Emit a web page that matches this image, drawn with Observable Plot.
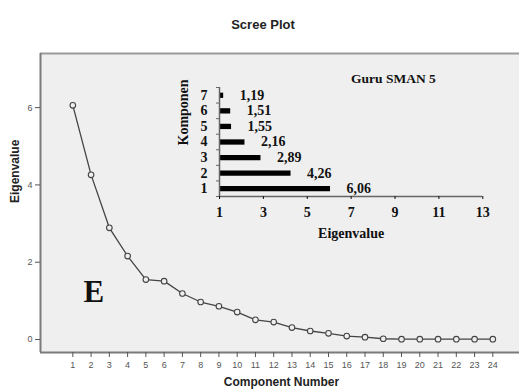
<!DOCTYPE html>
<html><head><meta charset="utf-8">
<script src="https://cdn.jsdelivr.net/npm/d3@7"></script>
<script src="https://cdn.jsdelivr.net/npm/@observablehq/plot@0.6"></script>
<style>
body{margin:0;background:#fff}
#wrap{position:relative;width:519px;height:392px;overflow:hidden}
#wrap svg{position:absolute;left:0;top:0}
</style></head><body><div id="wrap"></div>
<script>
// Main scree plot data
const components = [1,2,3,4,5,6,7,8,9,10,11,12,13,14,15,16,17,18,19,20,21,22,23,24];
const eigenvalues = [6.06,4.26,2.89,2.16,1.55,1.51,1.19,0.97,0.86,0.71,0.51,0.45,0.31,0.22,0.16,0.09,0.06,0.02,0.01,0.01,0.01,0.01,0.01,0.01];
const yTicks = [0,2,4,6];

// Inset bar chart data
const insetComponents = [1,2,3,4,5,6,7];
const insetValues = [6.06,4.26,2.89,2.16,1.55,1.51,1.19];
const insetLabels = ["6,06","4,26","2,89","2,16","1,55","1,51","1,19"];
const insetXTicks = [1,3,5,7,9,11,13];
const insetBoundaryTicks = [0.5,1.5,2.5,3.5,4.5,5.5,6.5,7.5];

const sans = "'Liberation Sans', Arial, sans-serif";
const serif = "'Liberation Serif', 'Times New Roman', serif";

const scree = components.map((c, i) => ({c, v: eigenvalues[i]}));
const insetData = insetComponents.map((k, i) => ({k, v: insetValues[i], label: insetLabels[i]}));

const main = Plot.plot({
  width: 519, height: 392,
  marginLeft: 40, marginRight: 0, marginTop: 53, marginBottom: 40,
  style: {background: "transparent", fontFamily: sans, overflow: "visible"},
  x: {domain: [-0.77, 25.46]},
  y: {domain: [-0.336, 7.40]},
  marks: [
    Plot.frame({fill: "#efefef", stroke: "none"}),
    Plot.ruleY([7.40], {stroke: "#9a9a9a", strokeWidth: 2}),
    Plot.ruleX([-0.77], {stroke: "#7a7a7a", strokeWidth: 2}),
    Plot.ruleY([-0.336], {stroke: "#7a7a7a", strokeWidth: 2}),
    Plot.axisX({ticks: components, tickSize: 5, tickPadding: 4, fontSize: 9, color: "#555", label: null}),
    Plot.axisY({ticks: yTicks, tickSize: 5, tickPadding: 3, fontSize: 9, color: "#555", label: null}),
    Plot.line(scree, {x: "c", y: "v", stroke: "#444", strokeWidth: 1.3}),
    Plot.dot(scree, {x: "c", y: "v", r: 2.8, stroke: "#444", fill: "#efefef", strokeWidth: 1.1}),
    Plot.text(["E"], {frameAnchor: "bottom-left", dx: 43, dy: -51, fontSize: 31, fontWeight: "bold", fontFamily: serif, fill: "#111"}),
    Plot.text(["Scree Plot"], {frameAnchor: "top", dx: -17, dy: -34, fontSize: 13, fontWeight: "bold", fill: "#222"}),
    Plot.text(["Eigenvalue"], {frameAnchor: "left", dx: -25, rotate: -90, fontSize: 12, fontWeight: "bold", fill: "#222"}),
    Plot.text(["Component Number"], {frameAnchor: "bottom", dx: 1.5, dy: 33, fontSize: 12, fontWeight: "bold", fill: "#222"})
  ]
});

const inset = Plot.plot({
  width: 519, height: 392,
  marginLeft: 219, marginRight: 36.7, marginTop: 87, marginBottom: 196,
  style: {background: "transparent", fontFamily: serif, overflow: "visible"},
  x: {domain: [1, 13]},
  y: {domain: [0.5, 7.5]},
  marks: [
    Plot.ruleY(insetData, {y: "k", x1: 1, x2: "v", stroke: "#000", strokeWidth: 5.3}),
    Plot.text(insetData, {x: "v", y: "k", text: "label", dx: 16, textAnchor: "start", fontSize: 14, fontWeight: "bold", fill: "#111"}),
    Plot.ruleX([1], {stroke: "#666", strokeWidth: 1.5}),
    Plot.ruleY([0.5], {stroke: "#666", strokeWidth: 1.5}),
    Plot.axisX({ticks: insetXTicks, tickSize: 3, tickPadding: 8, tickFormat: d => String(d), fontSize: 14, fontWeight: "bold", color: "#111", label: null}),
    Plot.axisY({ticks: insetComponents, tickSize: 0, tickPadding: 12, tickFormat: d => String(d), fontSize: 14, fontWeight: "bold", color: "#111", label: null}),
    Plot.axisY({ticks: insetBoundaryTicks, tickSize: 3, tickFormat: () => "", color: "#666", label: null}),
    Plot.text(["Komponen"], {frameAnchor: "left", dx: -36, dy: 3.5, rotate: -90, fontSize: 14, fontWeight: "bold", fill: "#111"}),
    Plot.text(["Eigenvalue"], {frameAnchor: "bottom", dy: 41, fontSize: 14, fontWeight: "bold", fill: "#111"}),
    Plot.text(["Guru SMAN 5"], {frameAnchor: "top-right", dx: -47, dy: -14, fontSize: 13.5, fontWeight: "bold", fill: "#111"})
  ]
});

const wrap = document.getElementById("wrap");
wrap.appendChild(main);
wrap.appendChild(inset);
</script>
</body></html>
